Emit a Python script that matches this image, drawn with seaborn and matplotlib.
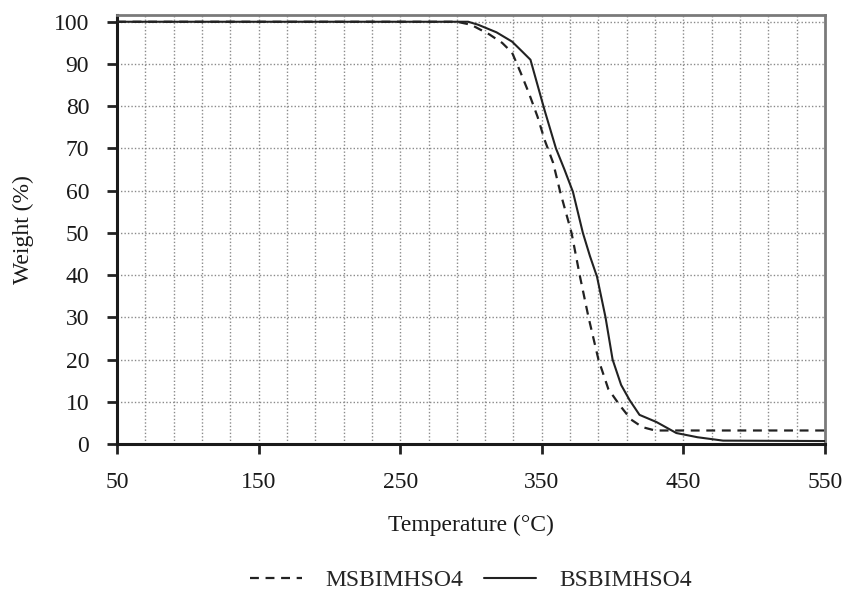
import numpy as np
import pandas as pd
import matplotlib
matplotlib.use("Agg")
import matplotlib.pyplot as plt
from matplotlib.ticker import MultipleLocator
import seaborn as sns

# TGA curves: temperature (°C) vs remaining weight (%)
ms_temp = [50, 290, 300, 313, 322, 329, 335, 341, 347, 352, 358, 363, 371, 377, 383, 390, 397, 405, 413, 421, 430, 550]
ms_weight = [100, 100, 99.3, 97, 95, 92.7, 88, 83, 77.5, 72, 66.6, 59.7, 50, 39.6, 30, 20, 13, 9.2, 5.8, 4, 3.2, 3.2]

bs_temp = [50, 298, 305, 318, 329, 336, 342, 347, 352, 360, 366, 372, 379, 384, 389, 395, 400, 406, 412, 419, 431, 445, 460, 478, 550]
bs_weight = [100, 100, 99.3, 97.5, 95.3, 93, 91, 85, 79, 70, 65, 59.7, 50, 44.5, 39.6, 30, 20, 14, 10.4, 6.9, 5.2, 2.6, 1.6, 0.8, 0.7]

series_names = ["MSBIMHSO4", "BSBIMHSO4"]
x_ticks = [50, 150, 250, 350, 450, 550]
y_ticks = list(range(0, 101, 10))

sns.set_theme(style="white")
plt.rcParams["font.family"] = ["Liberation Serif", "DejaVu Serif"]
FS = 17

fig = plt.figure(figsize=(8.48, 5.94), dpi=100)
ax = fig.add_axes([117 / 848, 1 - 444 / 594, (825 - 117) / 848, (444 - 15) / 594])

df_ms = pd.DataFrame({"Temperature": ms_temp, "Weight": ms_weight})
df_bs = pd.DataFrame({"Temperature": bs_temp, "Weight": bs_weight})

sns.lineplot(data=df_ms, x="Temperature", y="Weight", ax=ax, color="#222222",
             linewidth=1.6, linestyle=(0, (4, 3)), label=series_names[0], zorder=3)
sns.lineplot(data=df_bs, x="Temperature", y="Weight", ax=ax, color="#222222",
             linewidth=1.5, linestyle="-", label=series_names[1], zorder=3)

ax.set_xlim(50, 550)
ax.set_ylim(0, 101.6)
ax.set_xticks(x_ticks)
ax.set_xticklabels([str(v) for v in x_ticks])
ax.set_yticks(y_ticks)
ax.set_yticklabels([str(v) for v in y_ticks])
ax.xaxis.set_minor_locator(MultipleLocator(20))

# dotted grid: every 20 °C vertically, every 10 % horizontally
for xv in np.arange(70, 550, 20):
    ax.axvline(xv, color="#8a8a8a", linewidth=1.0, linestyle=(0, (1, 1.5)), zorder=1)
for yv in range(10, 101, 10):
    ax.axhline(yv, color="#8a8a8a", linewidth=1.0, linestyle=(0, (1, 1.5)), zorder=1)

ax.tick_params(axis="both", which="major", direction="out", length=7, width=2,
               color="#222222", labelsize=FS, labelcolor="#1a1a1a", bottom=True, left=True)
ax.tick_params(axis="x", which="major", pad=13)
ax.tick_params(axis="y", which="major", pad=13)
ax.tick_params(axis="x", which="minor", bottom=False)

for side in ["left", "bottom"]:
    ax.spines[side].set_color("#1a1a1a")
    ax.spines[side].set_linewidth(2.2)
for side in ["top", "right"]:
    ax.spines[side].set_color("#7a7a7a")
    ax.spines[side].set_linewidth(2.0)

ax.set_xlabel("Temperature (°C)", fontsize=FS, color="#1a1a1a", labelpad=16)
ax.set_ylabel("Weight (%)", fontsize=FS, color="#1a1a1a", labelpad=14)

ax.legend(loc="center", bbox_to_anchor=(0.5, -(580 - 444) / 429), ncol=2, frameon=False,
          fontsize=FS, handlelength=2.2, columnspacing=0.9, handletextpad=1.0)

fig.savefig("out.png", dpi=100)
